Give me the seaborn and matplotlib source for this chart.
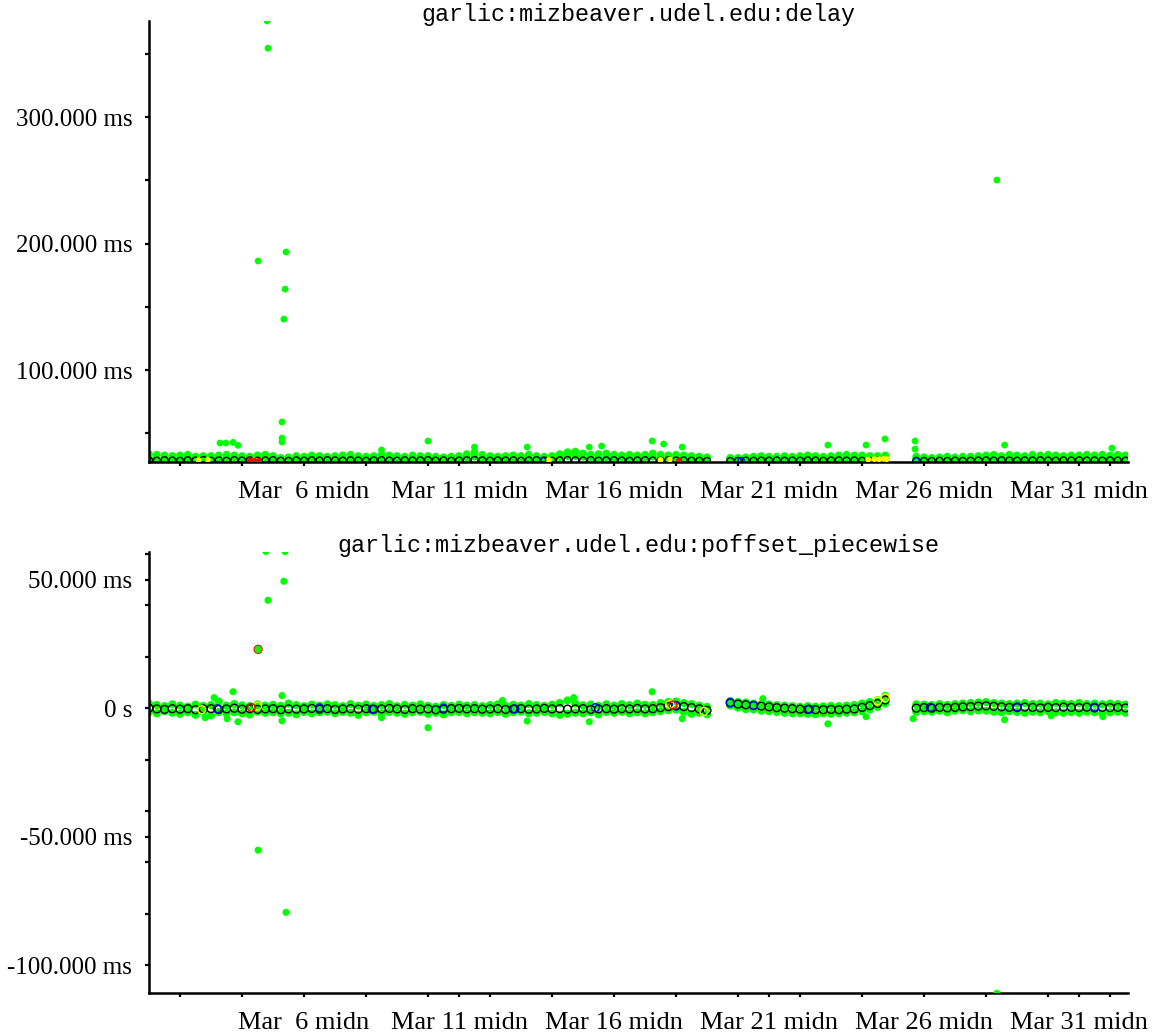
import numpy as np
import pandas as pd
import seaborn as sns
import matplotlib.pyplot as plt

nan = np.nan

# sample times, in days of March (one reading every 6 hours)
days = np.arange(1.0, 32.51, 0.25)

# ---- delay (ms) ----
delay_hi = [33.5, 33.0, 32.5, 32.0, 32.5, 33.0, 31.5, 32.0, 32.0, 32.5, 33.0, 32.5,
            32.0, 31.5, 32.5, 33.0, 32.0, 30.5, 31.0, 32.0, 31.5, 32.5, 32.0, 31.5,
            32.0, 32.5, 33.0, 32.0, 31.5, 32.0, 33.0, 32.5, 32.0, 31.5, 32.5, 32.0,
            32.0, 31.5, 31.0, 31.5, 32.0, 33.5, 35.0, 33.0, 32.0, 31.5, 32.0, 32.5,
            32.0, 33.0, 32.0, 31.5, 32.0, 33.5, 35.0, 35.5, 34.0, 33.0, 33.5, 34.0,
            33.0, 32.5, 33.0, 32.5, 33.0, 34.0, 33.0, 32.5, 33.0, 32.5, 32.0, 31.5,
            31.0, nan, nan, 30.5, 30.5, 31.0, 31.5, 32.0, 31.5, 31.5, 32.0, 31.5,
            32.0, 32.5, 32.0, 31.5, 32.0, 32.5, 33.0, 32.5, 32.5, 32.0, 32.0, 32.5,
            nan, nan, nan, 31.5, 31.0, 30.5, 31.0, 31.5, 31.0, 31.5, 31.5, 32.0,
            32.5, 33.0, 32.0, 33.0, 32.5, 32.0, 33.0, 32.5, 33.0, 32.5, 32.0, 32.5,
            32.5, 33.0, 32.5, 33.0, 32.5, 33.0, 32.5]
delay_lo = [30.5, 30.0, 30.5, 30.0, 30.0, 30.5, 30.0, 30.5, 30.5, 30.0, 30.5, 31.0,
            30.5, 30.0, 30.5, 30.0, 30.5, 29.5, 29.5, 30.0, 30.0, 30.5, 30.0, 30.5,
            30.5, 30.0, 30.5, 30.0, 30.0, 30.5, 30.5, 30.0, 30.5, 30.0, 30.0, 30.5,
            30.0, 30.5, 30.0, 30.0, 30.5, 31.0, 31.5, 30.5, 30.0, 30.5, 30.0, 30.5,
            30.5, 30.0, 30.5, 30.0, 30.5, 31.0, 32.0, 32.0, 31.5, 31.0, 30.5, 31.0,
            30.5, 31.0, 30.5, 30.5, 31.0, 31.5, 31.0, 30.5, 30.5, 30.5, 30.0, 30.0,
            29.5, nan, nan, 29.5, 29.5, 30.0, 30.0, 30.5, 30.0, 30.0, 30.5, 30.0,
            30.5, 30.0, 30.5, 30.0, 30.5, 30.5, 30.0, 30.5, 30.0, 30.5, 30.5, 30.0,
            nan, nan, nan, 30.0, 29.5, 29.5, 30.0, 29.5, 30.0, 29.5, 30.0, 30.0,
            30.5, 30.5, 30.0, 30.5, 30.5, 30.0, 30.5, 30.5, 30.5, 30.5, 30.0, 30.5,
            30.5, 31.0, 30.5, 30.5, 30.5, 30.5, 30.0]
delay_black = [28.6, 28.4, 28.8, 28.5, 28.3, 28.7, 28.5, 28.9, 28.4, 28.6, 28.3, 28.8,
               28.5, 28.7, 28.4, 28.6, 28.8, 28.3, 28.2, 28.6, 28.4, 28.7, 28.5, 28.8,
               28.6, 28.4, 28.7, 28.5, 28.3, 28.6, 28.8, 28.5, 28.4, 28.7, 28.5, 28.6,
               28.8, 28.4, 28.6, 28.3, 28.5, 28.7, 28.9, 28.6, 28.4, 28.6, 28.5, 28.7,
               28.3, 28.6, 28.8, 28.5, 28.4, 28.7, 28.9, 28.6, 28.5, 28.8, 28.4, 28.6,
               28.7, 28.5, 28.3, 28.6, 28.8, 28.5, 28.4, 28.7, 28.5, 28.6, 28.4, 28.3,
               28.2, nan, nan, 28.1, 28.2, 28.4, 28.3, 28.5, 28.4, 28.6, 28.3, 28.5,
               28.4, 28.6, 28.5, 28.3, 28.5, 28.7, 28.4, 28.6, 28.3, 28.2, 28.4, 28.3,
               nan, nan, nan, 28.3, 28.2, 28.1, 28.3, 28.2, 28.4, 28.2, 28.3, 28.5,
               28.6, 28.4, 28.7, 28.5, 28.4, 28.6, 28.5, 28.7, 28.5, 28.4, 28.6, 28.5,
               28.7, 28.5, 28.6, 28.4, 28.6, 28.5, 28.4]

delay_out_day = [4.52, 4.81, 4.84, 5.42, 5.39, 5.35, 5.29, 5.29, 5.29, 28.35,
                 28.6, 10.0, 3.29, 3.48, 3.71, 3.87, 17.23, 17.6, 18.2, 13.2,
                 11.5, 15.6, 15.2, 22.9, 24.13, 24.74, 25.71, 25.71, 32.06, 8.5]
delay_out_val = [186.2, 376.0, 354.5, 193.3, 164.0, 140.3, 58.9, 46.2, 43.1, 250.2,
                 40.7, 43.9, 42.3, 42.3, 42.8, 40.5, 43.9, 41.5, 39.1, 39.1,
                 39.1, 39.9, 39.1, 40.7, 40.7, 45.5, 43.9, 37.5, 38.3, 36.8]

delay_yellow_day = [2.6, 2.9, 4.4, 13.9, 17.5, 17.8, 24.2, 24.4, 24.55, 24.7, 24.8]
delay_yellow_val = [28.8, 29.0, 28.6, 28.9, 29.0, 29.2, 29.3, 29.6, 29.4, 29.8, 29.5]
delay_red_day = [4.25, 4.4, 4.55, 18.1]
delay_red_val = [28.2, 28.3, 28.1, 28.6]
delay_blue_day = [13.7, 20.1, 25.75]
delay_blue_val = [28.6, 28.5, 28.4]

# ---- poffset_piecewise (ms) ----
poff_black = [0.0, -0.3, -0.5, -0.2, -0.4, -0.2, -0.6, -0.3, -0.2, -0.5, -0.3, 0.0,
              -0.4, -0.2, -0.5, -0.3, -0.2, -0.6, -0.3, -0.4, -0.3, -0.1, -0.4, -0.2,
              -0.5, -0.3, -0.2, -0.4, -0.2, -0.4, -0.3, -0.1, -0.3, -0.5, -0.2, -0.4,
              -0.3, -0.6, -0.4, -0.2, -0.1, -0.3, -0.2, -0.4, -0.3, -0.2, -0.5, -0.3,
              -0.2, -0.4, -0.3, -0.1, -0.3, -0.2, -0.4, -0.3, -0.2, -0.5, -0.3, -0.2,
              -0.4, -0.2, -0.3, -0.1, -0.3, -0.2, 0.2, 0.6, 1.0, 0.6, 0.2, -0.3,
              -0.9, nan, nan, 2.0, 1.6, 1.3, 1.0, 0.8, 0.5, 0.2, 0.0, -0.2,
              -0.4, -0.5, -0.6, -0.6, -0.5, -0.6, -0.4, -0.3, 0.3, 1.0, 1.8, 3.2,
              nan, nan, nan, 0.0, 0.2, 0.0, 0.3, 0.1, 0.3, 0.5, 0.6, 0.8,
              0.9, 0.7, 0.5, 0.3, 0.2, 0.4, 0.3, 0.1, 0.3, 0.2, 0.4, 0.3,
              0.2, 0.4, 0.1, 0.3, 0.2, 0.3, 0.1]
poff_hi = [1.8, 1.2, 0.8, 1.5, 1.0, 0.6, 1.4, 0.9, 1.2, 2.6, 1.0, 1.6,
           1.1, 0.8, 1.5, 1.0, 1.3, 0.9, 1.8, 1.2, 0.8, 1.4, 1.0, 1.5,
           1.2, 0.8, 1.6, 1.0, 1.4, 0.9, 1.2, 1.6, 0.8, 1.3, 1.0, 1.5,
           0.9, 0.6, 1.2, 0.9, 1.4, 1.0, 1.2, 0.8, 1.2, 1.5, 0.9, 1.3,
           1.0, 1.6, 1.2, 0.9, 1.3, 2.0, 3.0, 1.8, 1.1, 1.4, 0.9, 1.5,
           1.0, 1.6, 1.2, 1.8, 1.3, 1.2, 2.0, 2.4, 2.6, 2.0, 1.6, 1.0,
           0.5, nan, nan, 2.8, 2.4, 2.2, 1.8, 1.6, 1.5, 1.2, 1.0, 0.8,
           0.6, 0.8, 0.6, 0.7, 0.9, 0.8, 1.0, 1.2, 1.8, 2.4, 3.2, 4.8,
           nan, nan, nan, 1.5, 1.4, 1.2, 1.6, 1.3, 1.6, 1.8, 2.0, 2.2,
           2.4, 2.0, 1.8, 1.6, 1.8, 2.0, 1.6, 1.8, 1.5, 2.0, 1.8, 1.6,
           2.0, 1.6, 1.8, 1.5, 1.8, 1.6, 1.4]
poff_lo = [-1.5, -2.0, -1.2, -1.8, -2.2, -1.6, -2.6, -1.4, -2.8, -1.5, -2.0, -1.6,
           -2.0, -2.5, -1.4, -1.8, -1.6, -2.0, -1.8, -2.4, -1.5, -2.0, -1.6, -1.4,
           -2.0, -1.5, -1.8, -2.6, -1.6, -1.4, -2.0, -1.5, -1.8, -2.2, -1.6, -1.4,
           -2.2, -1.8, -2.4, -1.6, -1.5, -2.0, -1.6, -1.8, -2.0, -1.5, -2.2, -1.6,
           -1.4, -2.0, -1.8, -1.5, -2.0, -2.6, -2.2, -1.8, -2.0, -1.6, -2.4, -1.5,
           -1.8, -1.4, -2.0, -1.6, -2.0, -1.6, -1.2, -0.8, -0.6, -1.5, -2.2, -1.8,
           -2.4, nan, nan, 1.0, 0.2, -0.4, -0.5, -1.0, -1.2, -1.5, -1.8, -2.0,
           -2.0, -2.2, -2.4, -2.0, -2.2, -2.0, -1.8, -1.6, -1.2, -0.5, 0.4, 1.8,
           nan, nan, nan, -1.5, -1.2, -1.4, -1.0, -1.6, -1.0, -0.8, -1.2, -0.9,
           -1.0, -1.4, -1.6, -1.2, -1.5, -1.8, -1.4, -1.6, -1.2, -1.6, -1.8, -1.5,
           -1.8, -1.4, -1.6, -2.0, -1.6, -1.4, -1.8]

poff_out_day = [4.52, 4.77, 5.39, 5.35, 4.84, 4.52, 5.42, 28.35, 5.29, 5.29,
                3.71, 3.1, 3.87, 3.52, 2.81, 10.0, 17.23, 13.2, 15.2, 18.2,
                14.7, 20.8, 22.9, 24.13, 25.65, 28.6, 31.77, 8.5, 12.4, 30.1]
poff_out_val = [22.9, 61.0, 61.0, 49.4, 42.0, -55.3, -79.5, -111.0, 4.9, -4.9,
                6.4, 4.1, -5.3, -4.1, -3.7, -7.6, 6.4, -5.0, -5.3, -4.1,
                4.1, 3.7, -6.1, -3.3, -4.1, -4.5, -3.3, -3.7, 3.0, -3.0]

poff_blue_day = [3.2, 6.5, 8.2, 10.5, 12.8, 15.4, 18.0, 19.75, 20.5, 22.3, 26.2, 29.0, 31.5]
poff_blue_val = [-0.2, 0.1, -0.4, 0.0, -0.3, 0.2, 0.8, 2.2, 1.1, -0.4, 0.3, 0.5, 0.4]
poff_yellow_day = [2.7, 4.5, 17.8, 18.9, 24.5, 24.75]
poff_yellow_val = [-0.6, 0.8, 1.5, -1.3, 2.8, 4.0]
poff_red_day = [4.3, 4.52, 17.9]
poff_red_val = [0.3, 22.9, 1.2]

major_days = [6, 11, 16, 21, 26, 31]
major_labels = ['Mar  6 midn', 'Mar 11 midn', 'Mar 16 midn',
                'Mar 21 midn', 'Mar 26 midn', 'Mar 31 midn']
minor_days = [2, 4, 8, 10, 12, 14, 18, 20, 22, 24, 28, 30, 32]

GREEN = '#00ff00'
serif = ['Liberation Serif', 'DejaVu Serif']
mono = ['Liberation Mono', 'DejaVu Sans Mono']

sns.set_style('ticks')
plt.rcParams['font.family'] = serif

fig = plt.figure(figsize=(11.6, 10.33), dpi=100)
ax1 = fig.add_axes([149 / 1160, 1 - 462 / 1033, 979 / 1160, 441 / 1033])
ax2 = fig.add_axes([149 / 1160, 1 - 993 / 1033, 979 / 1160, 441 / 1033])


def dots(ax, x, y, color, hollow=False, s=20, z=2):
    df = pd.DataFrame({'day': x, 'val': y}).dropna()
    if hollow:
        sns.scatterplot(data=df, x='day', y='val', ax=ax, marker='o', s=s,
                        facecolors='none', edgecolor=color, linewidth=1.0, zorder=z)
    else:
        sns.scatterplot(data=df, x='day', y='val', ax=ax, marker='o', s=s,
                        color=color, edgecolor='none', linewidth=0, zorder=z)


# top panel
dots(ax1, days, delay_lo, GREEN, s=32, z=2)
dots(ax1, days, delay_hi, GREEN, s=32, z=2)
dots(ax1, days, delay_black, 'black', hollow=True, s=24, z=3)
dots(ax1, delay_yellow_day, delay_yellow_val, '#ffff00', s=18, z=4)
dots(ax1, delay_red_day, delay_red_val, '#ff0000', s=18, z=4)
dots(ax1, delay_blue_day, delay_blue_val, '#0000ff', hollow=True, s=18, z=4)
dots(ax1, delay_out_day, delay_out_val, GREEN, s=24, z=5)

# bottom panel
dots(ax2, days, poff_lo, GREEN, s=34, z=2)
dots(ax2, days, poff_hi, GREEN, s=34, z=2)
dots(ax2, days, poff_black, 'black', hollow=True, s=32, z=3)
dots(ax2, poff_blue_day, poff_blue_val, '#0000ff', hollow=True, s=32, z=4)
dots(ax2, poff_yellow_day, poff_yellow_val, '#ffff00', hollow=True, s=32, z=4)
dots(ax2, poff_red_day, poff_red_val, '#ff0000', hollow=True, s=32, z=4)
dots(ax2, poff_out_day, poff_out_val, GREEN, s=26, z=5)

ax1.set_ylim(27.3, 376)
ax1.set_yticks([100, 200, 300])
ax1.set_yticklabels(['100.000 ms', '200.000 ms', '300.000 ms'])
ax1.set_yticks([50, 150, 250, 350], minor=True)

ax2.set_ylim(-110.9, 60.8)
ax2.set_yticks([-100, -50, 0, 50])
ax2.set_yticklabels(['-100.000 ms', '-50.000 ms', '0 s', '50.000 ms'])
ax2.set_yticks([-80, -60, -40, -20, 20, 40, 60], minor=True)

titles = ['garlic:mizbeaver.udel.edu:delay',
          'garlic:mizbeaver.udel.edu:poffset_piecewise']
for ax, title in zip([ax1, ax2], titles):
    ax.set_xlim(1.0, 32.58)
    ax.set_xticks(major_days)
    ax.set_xticklabels(major_labels)
    ax.set_xticks(minor_days, minor=True)
    ax.set_xlabel('')
    ax.set_ylabel('')
    sns.despine(ax=ax)
    for side in ['left', 'bottom']:
        ax.spines[side].set_linewidth(1.8)
        ax.spines[side].set_color('black')
    ax.tick_params(which='both', direction='out', length=3, width=1.6,
                   color='black', labelsize=18, labelcolor='black')
    ax.tick_params(axis='x', which='major', pad=11, labelsize=19)
    ax.tick_params(axis='y', which='major', pad=9)
    ax.text(0.5, 1.0, title, transform=ax.transAxes, ha='center', va='baseline',
            family=mono, fontsize=16.8, color='black')

fig.savefig('out.png', dpi=100)
